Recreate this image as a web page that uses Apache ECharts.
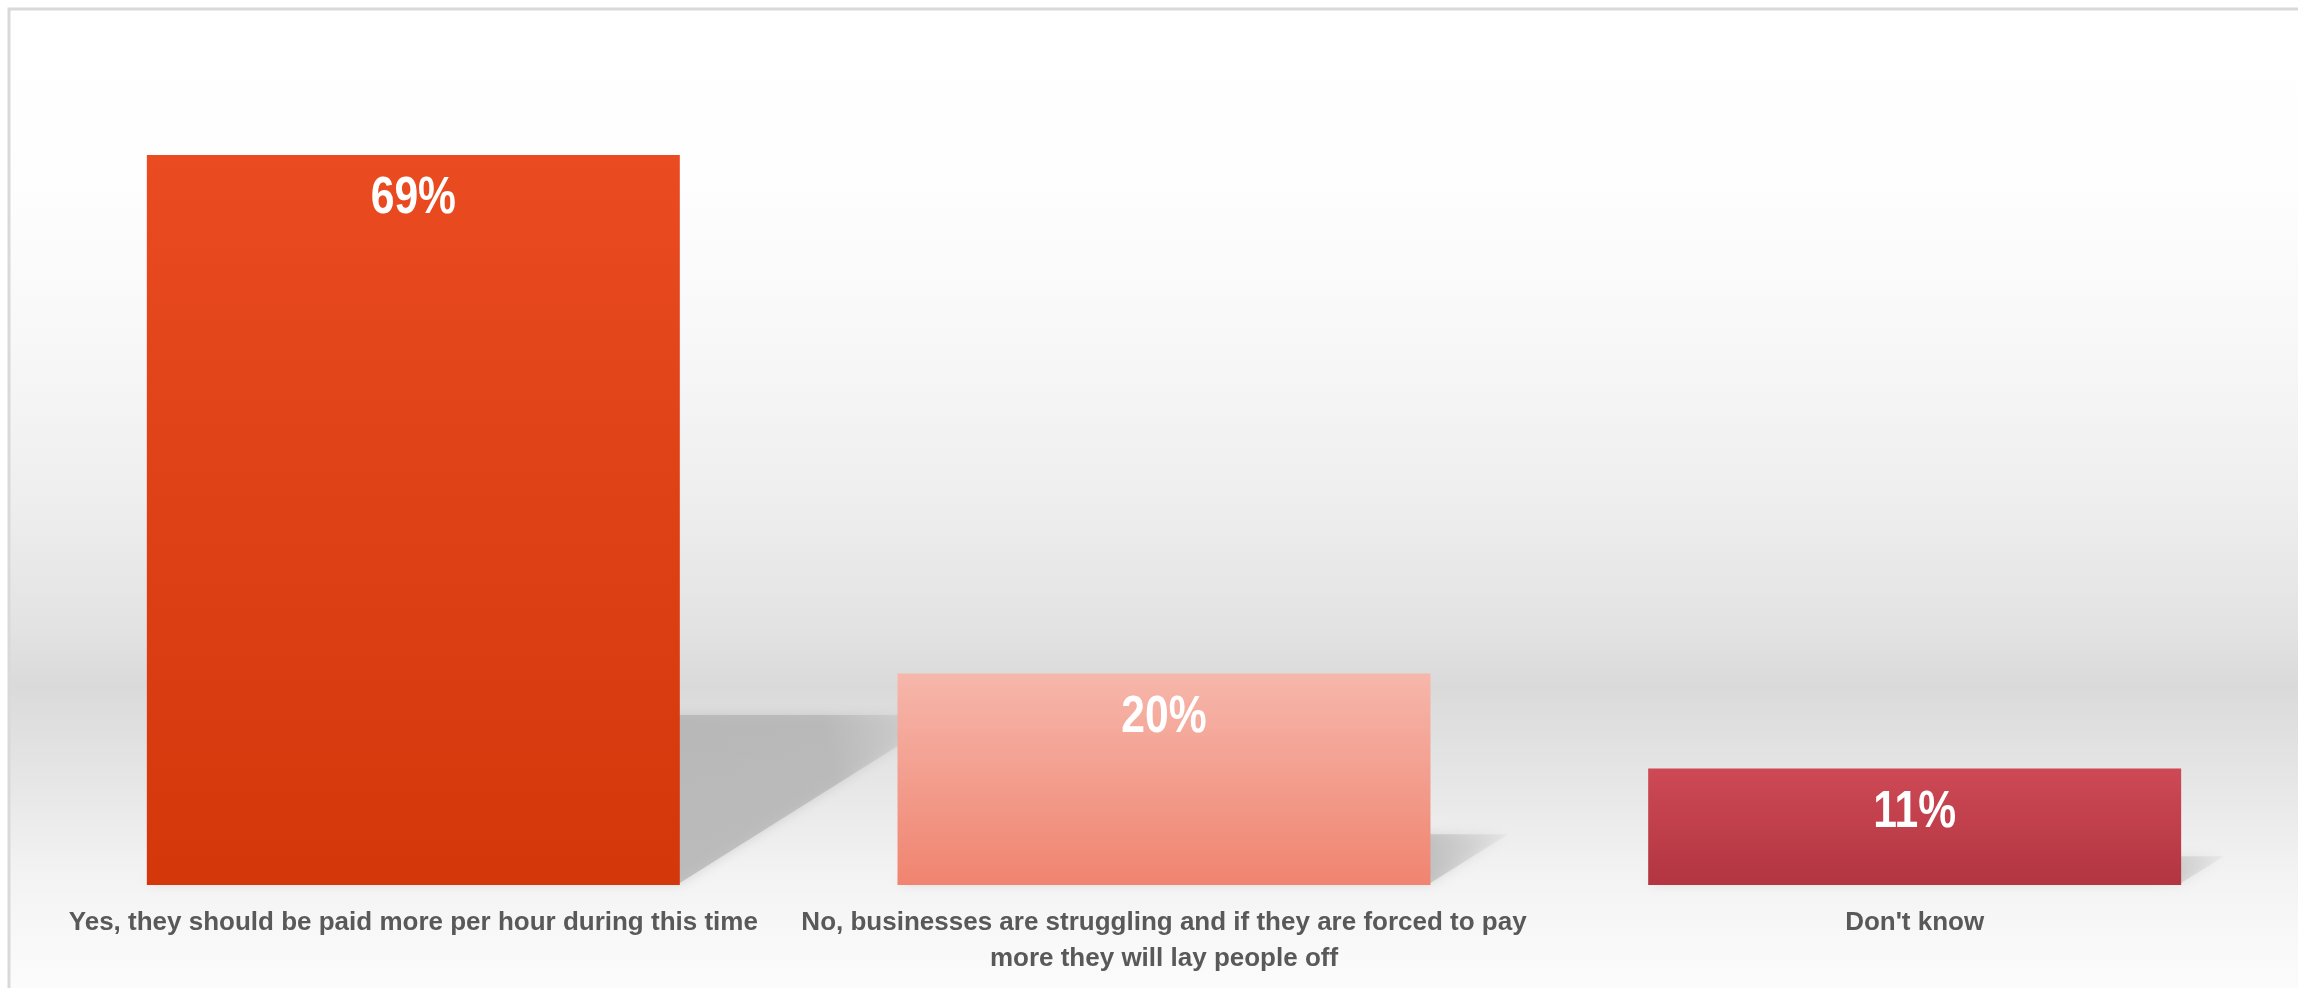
<!DOCTYPE html>
<html>
<head>
<meta charset="utf-8">
<script src="https://cdn.jsdelivr.net/npm/echarts@6/dist/echarts.min.js"></script>
<style>
  html, body { margin: 0; padding: 0; background: #ffffff; }
  #chart { width: 2298px; height: 988px; }
</style>
</head>
<body>
<div id="chart"></div>
<script>
// ---- data ----
const categories = [
  'Yes, they should be paid more per hour during this time',
  'No, businesses are struggling and if they are forced to pay\nmore they will lay people off',
  "Don't know"
];
const values = [69, 20, 11];
const valueLabels = ['69%', '20%', '11%'];

// ---- styles ----
const barColors = [
  ['#EA4B21', '#D3370A'],
  ['#F6B7AB', '#F08470'],
  ['#CD4955', '#B23541']
];
const FONT = '"Liberation Sans", Arial, sans-serif';
const BAR_W = 0.71;

const chart = echarts.init(document.getElementById('chart'), null, { renderer: 'canvas' });

const barData = values.map((v, i) => ({
  value: v,
  itemStyle: {
    color: new echarts.graphic.LinearGradient(0, 0, 0, 1, [
      { offset: 0, color: barColors[i][0] },
      { offset: 1, color: barColors[i][1] }
    ])
  }
}));

const pointData = values.map((v, i) => [i, v]);

const option = {
  animation: false,
  backgroundColor: '#ffffff',
  graphic: [{
    type: 'rect',
    z: -10,
    silent: true,
    shape: { x: 9, y: 9, width: 2400, height: 1100 },
    style: {
      stroke: '#d9d9d9',
      lineWidth: 3,
      fill: new echarts.graphic.LinearGradient(0, 0, 0, 1, [
        { offset: 0.00, color: '#ffffff' },
        { offset: 0.15, color: '#fefefe' },
        { offset: 0.30, color: '#f8f8f8' },
        { offset: 0.45, color: '#eeeeee' },
        { offset: 0.56, color: '#e3e3e3' },
        { offset: 0.615, color: '#dadada' },
        { offset: 0.70, color: '#e6e6e6' },
        { offset: 0.78, color: '#f2f2f2' },
        { offset: 0.84, color: '#f8f8f8' },
        { offset: 0.90, color: '#fcfcfc' },
        { offset: 1.00, color: '#ffffff' }
      ])
    }
  }],
  grid: { left: 38, right: 8, top: 38.6, bottom: 103, containLabel: false },
  xAxis: {
    type: 'category',
    data: categories,
    axisLine: { show: false },
    axisTick: { show: false },
    axisLabel: {
      interval: 0,
      margin: 20,
      color: '#595959',
      fontFamily: FONT,
      fontWeight: 'bold',
      fontSize: 26,
      lineHeight: 36
    }
  },
  yAxis: {
    type: 'value',
    min: 0,
    max: 80,
    show: false,
    splitLine: { show: false }
  },
  series: [
    {
      type: 'custom',
      z: 1,
      silent: true,
      data: pointData,
      renderItem: function (params, api) {
        const idx = api.value(0);
        const base = api.coord([idx, 0]);
        const top = api.coord([idx, api.value(1)]);
        const band = api.size([1, 0])[0];
        const w = band * BAR_W;
        const h = base[1] - top[1];
        const x0 = base[0] - w / 2, x1 = base[0] + w / 2;
        const dx = 0.366 * h, sh = 0.23 * h;
        const yb = base[1] - 2;
        return {
          type: 'polygon',
          shape: { points: [[x0, yb], [x1, yb], [x1 + dx, yb - sh], [x0 + dx, yb - sh]] },
          style: {
            fill: new echarts.graphic.LinearGradient(0, 1, 1, 0, [
              { offset: 0, color: 'rgba(172,172,172,0.70)' },
              { offset: 0.85, color: 'rgba(178,178,178,0.70)' },
              { offset: 1, color: 'rgba(190,190,190,0.15)' }
            ]),
            shadowBlur: 12,
            shadowColor: 'rgba(170,170,170,0.6)'
          }
        };
      }
    },
    {
      type: 'bar',
      z: 5,
      data: barData,
      barWidth: (BAR_W * 100) + '%'
    },
    {
      type: 'custom',
      z: 10,
      silent: true,
      data: pointData,
      renderItem: function (params, api) {
        const idx = api.value(0);
        const top = api.coord([idx, api.value(1)]);
        return {
          type: 'text',
          x: top[0],
          y: top[1] + 44,
          scaleX: 0.82,
          style: {
            text: valueLabels[idx],
            fill: '#ffffff',
            font: 'bold 52px ' + FONT,
            align: 'center',
            verticalAlign: 'middle'
          }
        };
      }
    }
  ]
};

chart.setOption(option);
</script>
</body>
</html>
